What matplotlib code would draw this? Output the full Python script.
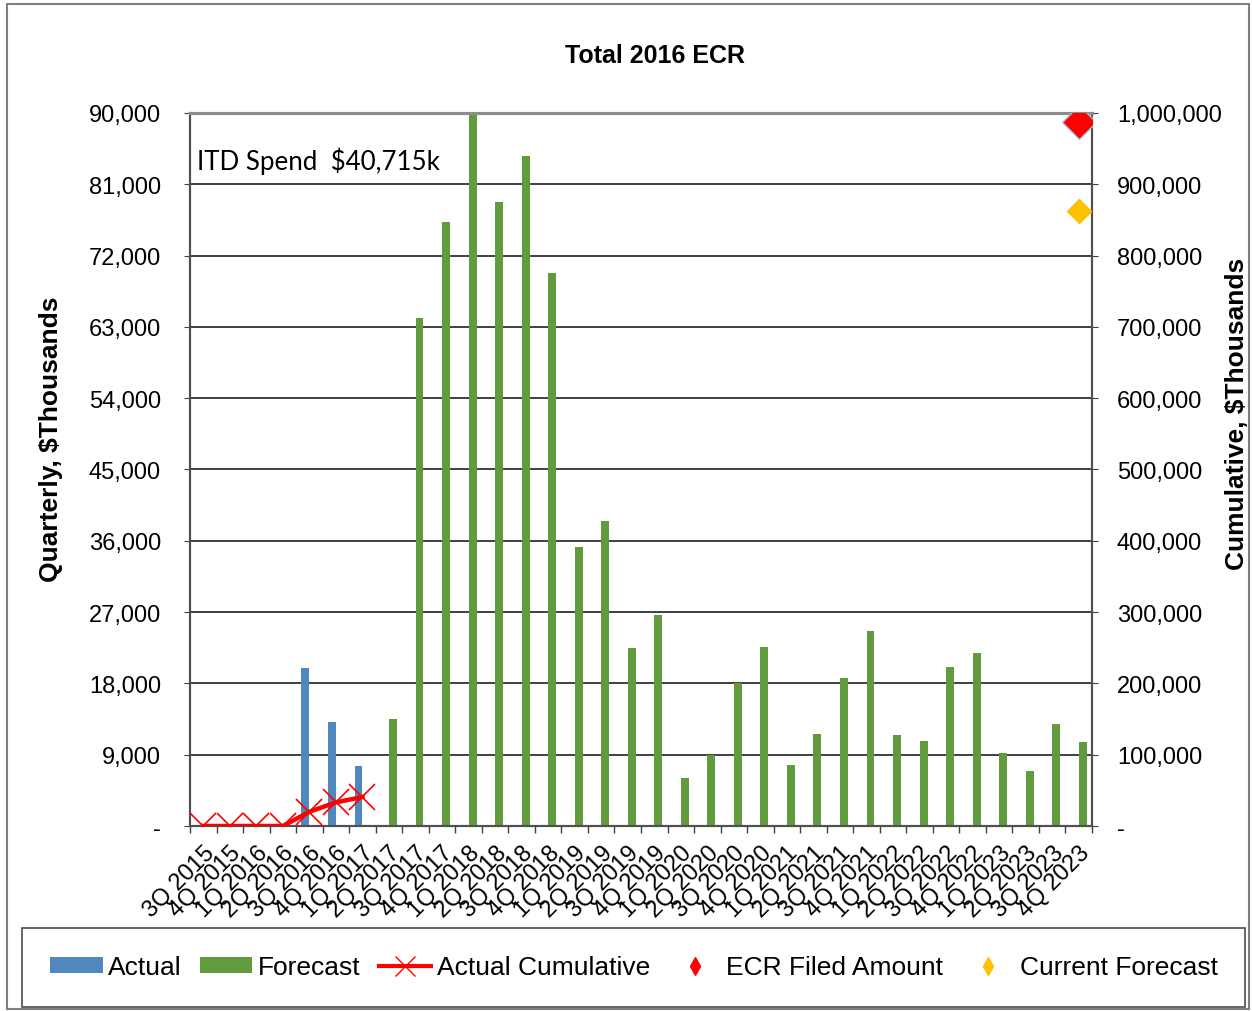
import numpy as np
import matplotlib
matplotlib.use('Agg')
import matplotlib.pyplot as plt
from matplotlib.patches import Patch, Rectangle
from matplotlib.lines import Line2D
from matplotlib.ticker import FuncFormatter

plt.rcParams['font.family'] = ['Liberation Sans', 'DejaVu Sans']

# Trimestres de 3Q 2015 a 4Q 2023
trimestres = []
for ano, qs in [(2015, [3, 4])] + [(a, [1, 2, 3, 4]) for a in range(2016, 2024)]:
    for q in qs:
        trimestres.append(f'{q}Q {ano}')

# Valores trimestrais ($ milhares)
idx_real = [4, 5, 6]
valores_real = [20000, 13150, 7565]

idx_prev = list(range(7, 34))
valores_prev = [13500, 64100, 76200, 90000, 78700, 84600, 69800,
                35200, 38500, 22470, 26630, 6060, 8920, 18050, 22560,
                7700, 11570, 18720, 24610, 11520, 10690, 20070, 21800,
                9250, 6940, 12840, 10570]

# Acumulado real (eixo da direita)
idx_acum = [0, 1, 2, 3, 4, 5, 6]
valores_acum = [0, 0, 0, 0, 20000, 33150, 40715]

ecr_aprovado = 987000
previsao_atual = 862000

cor_azul = '#4F88BF'
cor_verde = '#629A3E'


def fmt(v, pos):
    return '-' if v == 0 else f'{v:,.0f}'


fig = plt.figure(figsize=(12.52, 10.12), dpi=100)
fig.patches.append(Rectangle((0.0056, 0.002), 0.992, 0.993, transform=fig.transFigure,
                             fill=False, edgecolor='#808080', linewidth=1.5))

ax = fig.add_axes([0.1518, 0.1828, 0.7204, 0.7046])
ax2 = ax.twinx()

larg = 0.3
ax.bar(np.array(idx_real) - 0.15, valores_real, width=larg, color=cor_azul, zorder=3)
ax.bar(np.array(idx_prev) + 0.15, valores_prev, width=larg, color=cor_verde, zorder=3)

ax.set_xlim(-0.5, len(trimestres) - 0.5)
ax.set_ylim(0, 90000)
ax.set_yticks(np.arange(0, 90001, 9000))
ax.yaxis.set_major_formatter(FuncFormatter(fmt))
ax.grid(axis='y', color='#303030', linewidth=1.3)
ax.set_axisbelow(True)

ax.set_xticks(range(len(trimestres)))
ax.set_xticklabels(trimestres, rotation=45, ha='right', va='top',
                   rotation_mode='anchor', fontsize=17)
ax.set_xticks(np.arange(-0.5, len(trimestres)), minor=True)
ax.tick_params(axis='x', which='major', length=0, pad=11)
ax.tick_params(axis='x', which='minor', length=5, width=1, color='#404040')
ax.tick_params(axis='y', labelsize=17, length=4, pad=17, color='#404040')

ax2.plot(idx_acum, valores_acum, color='red', linewidth=3.2, marker='x',
         markersize=19, markeredgewidth=1.2, zorder=4)
ax2.plot([33], [ecr_aprovado], marker='D', markersize=17, color='red',
         markeredgecolor='#9DC3E6', markeredgewidth=1, linestyle='none', zorder=5)
ax2.plot([33], [previsao_atual], marker='D', markersize=12, color='#FFC000',
         linestyle='none', zorder=5)
ax2.set_ylim(0, 1000000)
ax2.set_yticks(np.arange(0, 1000001, 100000))
ax2.yaxis.set_major_formatter(FuncFormatter(fmt))
ax2.tick_params(axis='y', labelsize=17, length=4, pad=14, color='#404040')

for a in (ax, ax2):
    for lado in ('left', 'right', 'bottom'):
        a.spines[lado].set_color('#505050')
        a.spines[lado].set_linewidth(1.5)
    a.spines['top'].set_color('#8c8c8c')
    a.spines['top'].set_linewidth(2.2)

ax.text(0.008, 0.934, 'ITD Spend  $40,715k', transform=ax.transAxes,
        fontsize=18.6, family=['Lato', 'DejaVu Sans'], va='center', ha='left')

fig.text(0.523, 0.945, 'Total 2016 ECR', fontsize=18, fontweight='bold',
         ha='center', va='center')
fig.text(0.041, 0.566, 'Quarterly, $Thousands', fontsize=19, fontweight='bold',
         rotation=90, ha='center', va='center')
fig.text(0.988, 0.591, 'Cumulative, $Thousands', fontsize=19, fontweight='bold',
         rotation=90, ha='center', va='center')

handles = [
    Patch(facecolor=cor_azul),
    Patch(facecolor=cor_verde),
    Line2D([], [], color='red', linewidth=3, marker='x', markersize=14, markeredgewidth=1),
    Line2D([], [], color='red', marker='d', markersize=9, linestyle='none'),
    Line2D([], [], color='#FFC000', marker='d', markersize=9, linestyle='none'),
]
rotulos = ['Actual', 'Forecast', 'Actual Cumulative', 'ECR Filed Amount', 'Current Forecast']
leg = fig.legend(handles, rotulos, loc='lower left', bbox_to_anchor=(0.0176, 0.004, 0.977, 0.077),
                 mode='expand', ncol=5, fontsize=19, frameon=True, fancybox=False,
                 handlelength=2.0, handleheight=0.55, handletextpad=0.2,
                 borderpad=1.05, borderaxespad=0)
leg.get_frame().set_edgecolor('#202020')
leg.get_frame().set_linewidth(1.2)

fig.savefig('out.png', dpi=100)
